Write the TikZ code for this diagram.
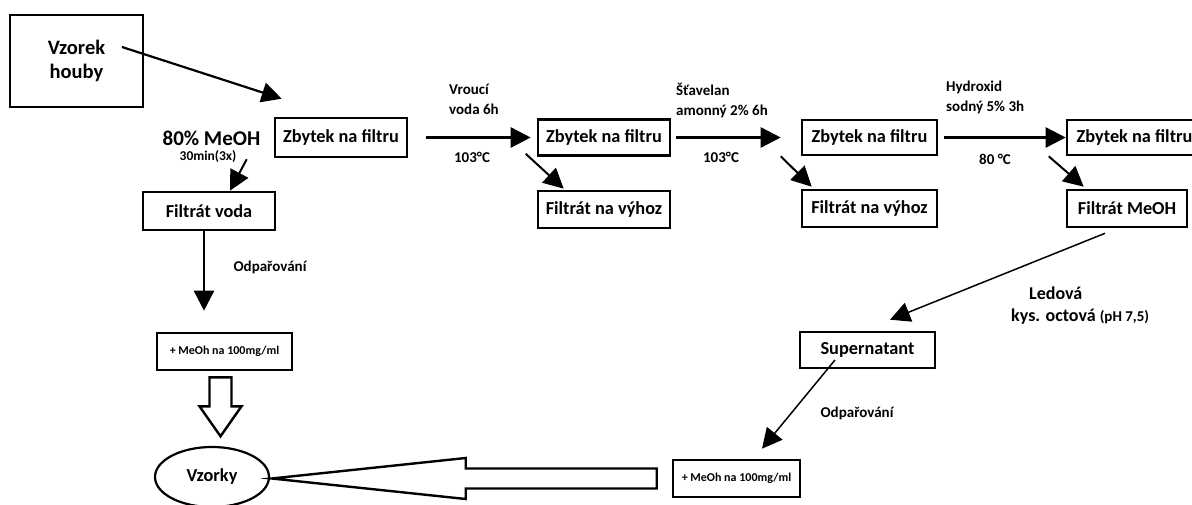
\documentclass[tikz,border=0pt]{standalone}
\usepackage{fontspec}
\setmainfont{Carlito}
\usetikzlibrary{arrows.meta,shapes.geometric}
\begin{document}
\begin{tikzpicture}[x=1pt,y=1pt,
    box/.style={draw,line width=2.6pt,inner sep=0pt,font=\bfseries\fontsize{18.3}{22}\selectfont},
    lbl/.style={inner sep=0pt,align=left,font=\bfseries\fontsize{15}{20}\selectfont},
    arr/.style={line width=2.2pt,-{Triangle[length=20pt,width=20pt]}},
    thinarr/.style={line width=1.5pt,-{Triangle[length=20pt,width=20pt]}},
    hollow/.style={draw,line width=2.4pt,fill=white,line join=miter}]
  \useasboundingbox (0,0) rectangle (1192,-505);
  % boxes
  \node[box,minimum width=133pt,minimum height=92pt,align=center,font=\bfseries\fontsize{20.5}{24}\selectfont] (vz) at (76.5,-61) {Vzorek\\houby};
  \node[box,minimum width=132pt,minimum height=39pt] (zb1) at (341,-137.5) {Zbytek na filtru};
  \node[box,minimum width=132pt,minimum height=36pt] (zb2) at (604,-137.5) {Zbytek na filtru};
  \node[box,minimum width=135pt,minimum height=35pt] (zb3) at (869.5,-137.5) {Zbytek na filtru};
  \node[box,minimum width=135pt,minimum height=35pt] (zb4) at (1134.5,-137.5) {Zbytek na filtru};
  \node[box,minimum width=132pt,minimum height=38pt] (fv) at (209,-211) {Filtrát voda};
  \node[box,minimum width=132pt,minimum height=37pt] (fz1) at (604,-209.5) {Filtrát na výhoz};
  \node[box,minimum width=135pt,minimum height=37pt] (fz2) at (869.5,-208.5) {Filtrát na výhoz};
  \node[box,minimum width=120pt,minimum height=37pt] (fm) at (1127,-208.5) {Filtrát MeOH};
  \node[box,minimum width=135pt,minimum height=37pt,font=\bfseries\fontsize{12}{14}\selectfont] (mL) at (224.5,-351.5) {+ MeOh na 100mg/ml};
  \node[box,minimum width=135pt,minimum height=36pt] (sup) at (867.5,-350) {Supernatant};
  \node[box,minimum width=127pt,minimum height=37pt,font=\bfseries\fontsize{12}{14}\selectfont] (mR) at (736.5,-478.5) {+ MeOh na 100mg/ml};
  \node[box,ellipse,line width=2.2pt,minimum width=114pt,minimum height=60pt] (vzk) at (212,-477) {Vzorky};
  % labels
  \node[font=\bfseries\fontsize{21}{25}\selectfont] (meoh) at (211.5,-138) {80\% MeOH};
  \node[font=\bfseries\fontsize{13.5}{16}\selectfont] (min) at (208,-157) {30min(3x)};
  \node[lbl,anchor=west] (l1) at (449,-99) {Vroucí\\voda 6h};
  \node[lbl] (t1) at (472,-157) {103°C};
  \node[lbl,anchor=west] (l2) at (676,-101) {Šťavelan\\amonný 2\% 6h};
  \node[lbl] (t2) at (721,-157) {103°C};
  \node[lbl,anchor=west] (l3) at (946,-97) {Hydroxid\\sodný 5\% 3h};
  \node[lbl] (t3) at (995,-159) {80 °C};
  \node[lbl] (od1) at (270,-267) {Odpařování};
  \node[lbl] (od2) at (857,-413) {Odpařování};
  \node[lbl,anchor=west,font=\bfseries\fontsize{18}{22}\selectfont] (led) at (1029,-293) {Ledová};
  \node[lbl,anchor=west,font=\bfseries\fontsize{18}{22}\selectfont] (kys) at (1011,-317) {kys. octová\ {\fontsize{15}{18}\selectfont (pH 7,5)}};
  % arrows
  \draw[arr] ([shift={(45.5,14)}]vz.center) -- ([shift={(8,18)}]zb1.north west);
  \draw[arr,line width=2pt] ([shift={(-27,-1)}]zb1.south west) -- ([xshift=21]fv.north);
  \draw[arr,line width=2.6pt] ([xshift=18]zb1.east) -- ([xshift=-6]zb2.west);
  \draw[arr,line width=2pt] ([shift={(-11,3)}]zb2.south west) -- ([shift={(27,1)}]fz1.north west);
  \draw[arr,line width=2.6pt] ([xshift=5]zb2.east) -- ([xshift=-20]zb3.west);
  \draw[arr,line width=2pt] ([xshift=-20]zb3.south west) -- ([shift={(11,2)}]fz2.north west);
  \draw[arr,line width=2.6pt] ([xshift=6]zb3.east) -- (zb4.west);
  \draw[arr,line width=2pt] ([xshift=-17]zb4.south west) -- ([shift={(18,2)}]fm.north west);
  \draw[thinarr] ([shift={(-22,-5)}]fm.south) -- ([shift={(22.5,11)}]sup.north);
  \draw[arr,line width=2.6pt] ([xshift=-5]fv.south) -- ([shift={(-20.5,21)}]mL.north);
  \draw[thinarr] ([shift={(-32.5,-10)}]sup.center) -- ([shift={(25.5,10)}]mR.north);
  % block arrows
  \draw[hollow] ([shift={(-15,-6)}]mL.south) -- ++(0,-29) -- ++(-10,0) -- ++(21,-30)
    -- ++(21,30) -- ++(-10,0) -- ++(0,29) -- cycle;
  \draw[hollow] ([shift={(-15,10)}]mR.west) -- ++(-191,0) -- ++(0,10.5) -- ++(-194,-20.5)
    -- ++(194,-20.5) -- ++(0,10.5) -- ++(191,0) -- cycle;
\end{tikzpicture}
\end{document}
